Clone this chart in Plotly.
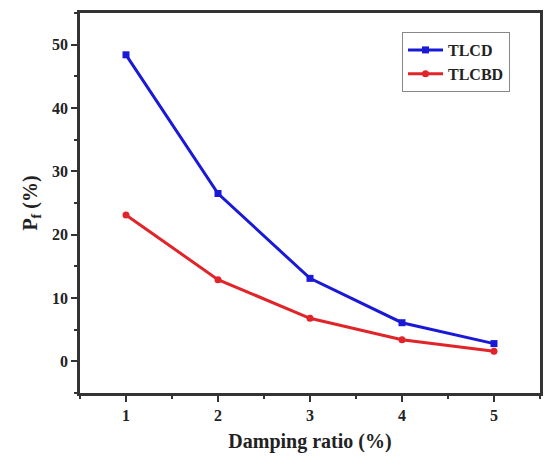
import plotly.graph_objects as go

damping = [1, 2, 3, 4, 5]
tlcd = [48.4, 26.5, 13.1, 6.1, 2.8]
tlcbd = [23.1, 12.9, 6.8, 3.4, 1.6]
x_ticks = [1, 2, 3, 4, 5]
y_ticks = [0, 10, 20, 30, 40, 50]

font_family = "Liberation Serif"

fig = go.Figure()
fig.add_trace(go.Scatter(x=damping, y=tlcd, mode="lines+markers", name="<b>TLCD</b>",
                         line=dict(color="#1a1ad6", width=3),
                         marker=dict(symbol="square", size=7, color="#1a1ad6")))
fig.add_trace(go.Scatter(x=damping, y=tlcbd, mode="lines+markers", name="<b>TLCBD</b>",
                         line=dict(color="#e0242a", width=3),
                         marker=dict(symbol="circle", size=7, color="#e0242a")))

fig.update_layout(
    width=550, height=466,
    margin=dict(l=80, r=7, t=13, b=73),
    paper_bgcolor="white", plot_bgcolor="white",
    font=dict(family=font_family, size=16, color="#222"),
    showlegend=True,
    legend=dict(x=0.70, y=0.95, xanchor="left", yanchor="top",
                bordercolor="#888", borderwidth=1, bgcolor="white",
                font=dict(family=font_family, size=16, color="#222"),
                tracegroupgap=0, itemwidth=35),
    xaxis=dict(range=[0.5, 5.5], tickvals=x_ticks, ticktext=[f"<b>{v}</b>" for v in x_ticks],
               ticks="outside", ticklen=6, tickwidth=2, tickcolor="#333",
               tickfont=dict(size=16),
               minor=dict(ticks="outside", ticklen=3, tickwidth=2, tickcolor="#333", dtick=0.5),
               showline=True, linecolor="#333", linewidth=2.5, mirror=True,
               showgrid=False, zeroline=False,
               title=dict(text="<b>Damping ratio (%)</b>", standoff=12,
                          font=dict(family=font_family, size=20))),
    yaxis=dict(range=[-5, 55], tickvals=y_ticks, ticktext=[f"<b>{v}</b>" for v in y_ticks],
               ticks="outside", ticklen=6, tickwidth=2, tickcolor="#333",
               tickfont=dict(size=16),
               minor=dict(ticks="outside", ticklen=3, tickwidth=2, tickcolor="#333", dtick=5),
               showline=True, linecolor="#333", linewidth=2.5, mirror=True,
               showgrid=False, zeroline=False,
               title=dict(text="<b>P<sub>f</sub> (%)</b>", standoff=10,
                          font=dict(family=font_family, size=20))),
)

fig.write_html("out.html")
